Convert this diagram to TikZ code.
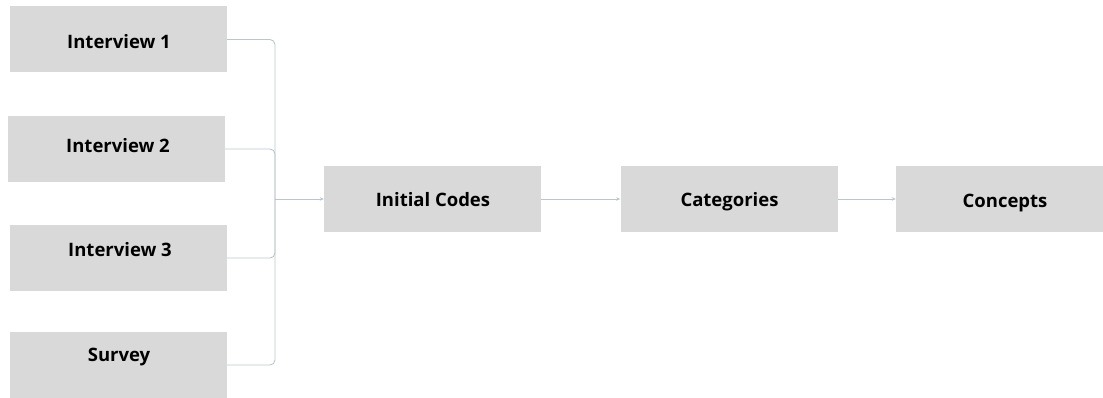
\documentclass[tikz,border=0pt]{standalone}
\usepackage{fontspec}
\setmainfont{Open Sans}
\usetikzlibrary{arrows.meta}
\definecolor{boxgray}{HTML}{D9D9D9}
\definecolor{linkgray}{HTML}{BCC5CF}
\begin{document}
\begin{tikzpicture}[x=1pt,y=-1pt,
  card/.style={fill=boxgray,draw=none,minimum width=217pt,minimum height=66pt,inner sep=0pt},
  cardtext/.style={font=\fontsize{18.5}{22}\selectfont\bfseries,text=black,inner sep=0pt,text height=13pt,text depth=0pt},
  link/.style={draw=linkgray,line width=0.9pt,rounded corners=5pt},
  arrowlink/.style={link,-{Stealth[length=4pt,width=3.5pt]}}]
\useasboundingbox (0,0) rectangle (1103,398);
% source boxes
\node[card] (i1) at (118.5,39.5) {};
\node[card] (i2) at (116.5,149) {};
\node[card] (i3) at (118.5,258) {};
\node[card] (sv) at (118.5,365) {};
\node[cardtext] (i1t) at (119,42) {Interview 1};
\node[cardtext] (i2t) at (118,146) {Interview 2};
\node[cardtext] (i3t) at (120,250) {Interview 3};
\node[cardtext] (svt) at (119,355) {Survey};
% pipeline boxes
\node[card] (ic) at (432.5,199) {};
\node[card] (ca) at (729,199) {};
\node[card,minimum width=207pt] (co) at (999.5,199) {};
\node[cardtext] (ict) at (433,200) {Initial Codes};
\node[cardtext] (cat) at (729.5,200) {Categories};
\node[cardtext] (cot) at (1005,201) {Concepts};
% merge point
\coordinate (m) at (275,199);
\draw[link] (i1.east) -- (275,39.5) -- (m);
\draw[link] (i2.east) -- (275,149) -- (m);
\draw[link] (i3.east) -- (275,258) -- (m);
\draw[link] (sv.east) -- (275,365) -- (m);
\draw[arrowlink] (m) -- (ic.west);
\draw[arrowlink] (ic.east) -- (ca.west);
\draw[arrowlink] (ca.east) -- (co.west);
\end{tikzpicture}
\end{document}
